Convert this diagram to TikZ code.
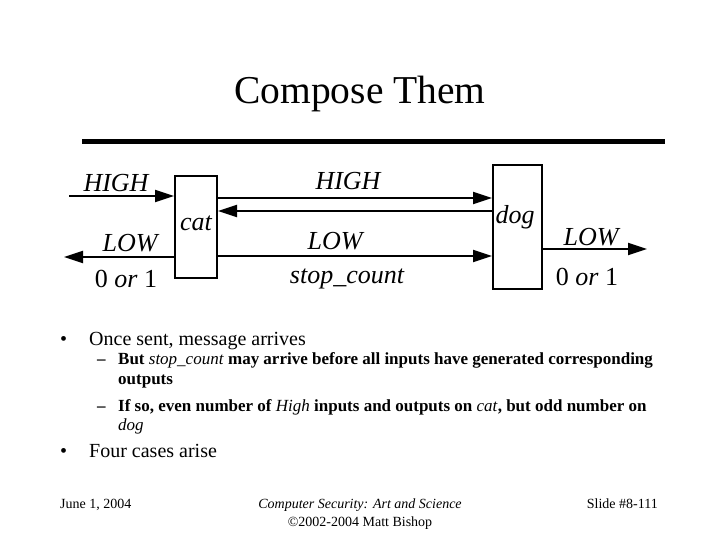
\documentclass[tikz,border=0pt]{standalone}
\usepackage{fontspec}
\setmainfont{Liberation Serif}
\usetikzlibrary{arrows.meta,calc}
\begin{document}
\begin{tikzpicture}[x=1pt,y=-1pt,
  box/.style={draw,line width=2pt,inner sep=0pt},
  conn/.style={line width=2pt},
  arr/.style={conn,-{Triangle[length=19pt,width=12pt]}},
  lbl/.style={font=\fontsize{26}{28}\selectfont\itshape,inner sep=0pt},
  bul/.style={anchor=base west,inner sep=0pt,font=\fontsize{20}{22}\selectfont},
  sub/.style={anchor=base west,inner sep=0pt,font=\fontsize{17}{19}\selectfont\bfseries},
  foot/.style={anchor=base,inner sep=0pt,font=\fontsize{14}{16}\selectfont}]
\useasboundingbox (0,0) rectangle (720,540);
% title
\node[inner sep=0pt,font=\fontsize{39.5}{42}\selectfont] (title) at (360,94) {Compose Them};
\draw[line width=5pt] (82,142) coordinate (r1) -- (665,142) coordinate (r2);
% boxes
\node[box,minimum width=42pt,minimum height=102pt] (cat) at (196,227) {};
\node[box,minimum width=49pt,minimum height=124pt] (dog) at (517.5,227) {};
\node[lbl] (catl) at (196,223) {cat};
\node[lbl] (dogl) at (515,217) {dog};
% connectors
\coordinate (hin) at (69,196);
\draw[arr] (hin) -- (hin -| cat.west);
\coordinate (c1) at (217,198);
\draw[arr] (c1 -| cat.east) -- (c1 -| dog.west);
\coordinate (c2) at (217,211);
\draw[arr] (c2 -| dog.west) -- (c2 -| cat.east);
\coordinate (lout) at (64,257);
\draw[arr] (lout -| cat.west) -- (lout);
\coordinate (c3) at (217,256);
\draw[arr] (c3 -| cat.east) -- (c3 -| dog.west);
\coordinate (dout) at (647,249);
\draw[arr] (dout -| dog.east) -- (dout);
% labels
\node[lbl] (l1) at (116,183) {HIGH};
\node[lbl] (l2) at (348,181) {HIGH};
\node[lbl] (l3) at (130,243) {LOW};
\node[lbl] (l4) at (126,279) {\upshape 0 \itshape or \upshape 1};
\node[lbl] (l5) at (335,241) {LOW};
\node[lbl] (l6) at (347,279) {stop\_count};
\node[lbl] (l7) at (591,237) {LOW};
\node[lbl] (l8) at (587,277) {\upshape 0 \itshape or \upshape 1};
% bullets
\node[bul] (b1d) at (60,345) {•};
\node[bul] (b1) at (89,345) {Once sent, message arrives};
\node[sub] (s1d) at (97,364) {–};
\node[sub] (s1) at (118,364) {But \mdseries\itshape stop\_count\/ \bfseries\upshape may arrive before all inputs have generated corresponding};
\node[sub] (s1b) at (118,384) {outputs};
\node[sub] (s2d) at (97,411) {–};
\node[sub] (s2) at (118,411) {If so, even number of \mdseries\itshape High\/ \bfseries\upshape inputs and outputs on \mdseries\itshape cat\/\bfseries\upshape, but odd number on};
\node[sub] (s2b) at (118,430) {\mdseries\itshape dog};
\node[bul] (b2d) at (60,457) {•};
\node[bul] (b2) at (89,457) {Four cases arise};
% footer
\node[foot,anchor=base west] (f1) at (60,508) {June 1, 2004};
\node[foot] (f2) at (360,508) {\itshape Computer Security: Art and Science};
\node[foot] (f3) at (360,526) {©2002-2004 Matt Bishop};
\node[foot,anchor=base east] (f4) at (658,508) {Slide \#8-111};
\end{tikzpicture}
\end{document}
